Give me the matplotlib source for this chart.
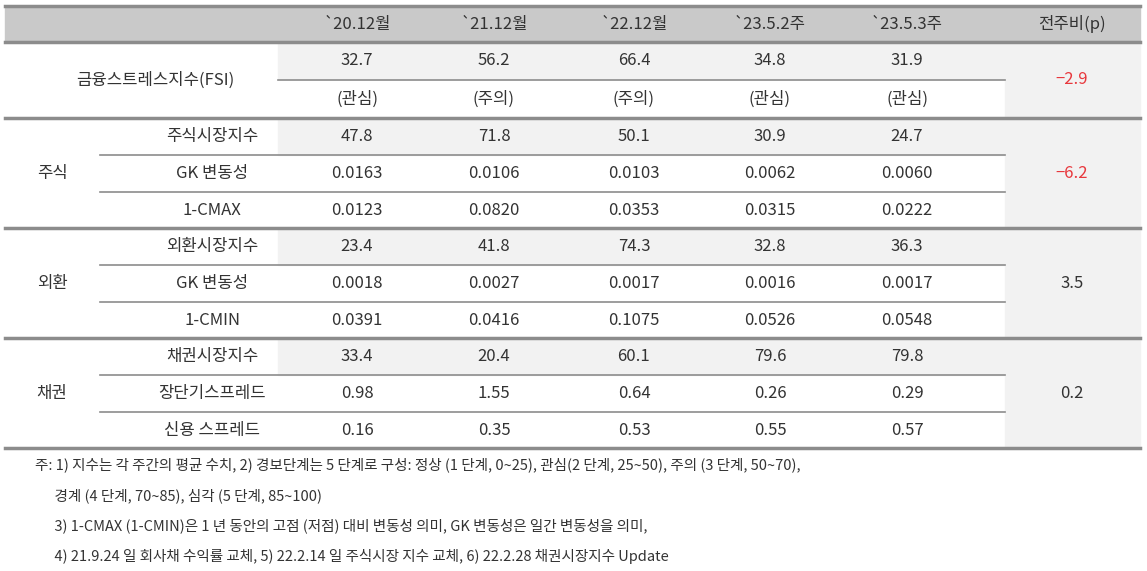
import matplotlib.pyplot as plt
from matplotlib.patches import Rectangle

plt.rcParams['font.family'] = ['Noto Sans CJK JP', 'Noto Sans CJK KR', 'Noto Sans CJK SC', 'DejaVu Sans']

# 데이터
periods = ["`20.12월", "`21.12월", "`22.12월", "`23.5.2주", "`23.5.3주"]
fsi_values = ["32.7", "56.2", "66.4", "34.8", "31.9"]
fsi_levels = ["(관심)", "(주의)", "(주의)", "(관심)", "(관심)"]
groups = ["주식", "외환", "채권"]
group_rows = [
    ["주식시장지수", "GK 변동성", "1-CMAX"],
    ["외환시장지수", "GK 변동성", "1-CMIN"],
    ["채권시장지수", "장단기스프레드", "신용 스프레드"],
]
group_values = [
    [["47.8", "71.8", "50.1", "30.9", "24.7"],
     ["0.0163", "0.0106", "0.0103", "0.0062", "0.0060"],
     ["0.0123", "0.0820", "0.0353", "0.0315", "0.0222"]],
    [["23.4", "41.8", "74.3", "32.8", "36.3"],
     ["0.0018", "0.0027", "0.0017", "0.0016", "0.0017"],
     ["0.0391", "0.0416", "0.1075", "0.0526", "0.0548"]],
    [["33.4", "20.4", "60.1", "79.6", "79.8"],
     ["0.98", "1.55", "0.64", "0.26", "0.29"],
     ["0.16", "0.35", "0.53", "0.55", "0.57"]],
]
fsi_change = "-2.9"
group_changes = ["-6.2", "3.5", "0.2"]
notes = [
    "주: 1) 지수는 각 주간의 평균 수치, 2) 경보단계는 5 단계로 구성: 정상 (1 단계, 0~25), 관심(2 단계, 25~50), 주의 (3 단계, 50~70),",
    "      경계 (4 단계, 70~85), 심각 (5 단계, 85~100)",
    "      3) 1-CMAX (1-CMIN)은 1 년 동안의 고점 (저점) 대비 변동성 의미, GK 변동성은 일간 변동성을 의미,",
    "      4) 21.9.24 일 회사채 수익률 교체, 5) 22.2.14 일 주식시장 지수 교체, 6) 22.2.28 채권시장지수 Update",
]

W, H = 1147, 571
fig = plt.figure(figsize=(W / 100, H / 100), dpi=100)
ax = fig.add_axes([0, 0, 1, 1])
ax.set_xlim(0, W)
ax.set_ylim(H, 0)
ax.axis('off')

txt = '#333333'
left, right = 5, 1140
data_l, data_r = 278, 1005
col_x = [357, 494, 634, 770, 907]
chg_x = 1072
row_h = 37

# 헤더
ax.add_patch(Rectangle((left, 6), right - left, 36, color='#c9c9c9', zorder=0))
for x, p in zip(col_x, periods):
    ax.text(x, 24, p, ha='center', va='center', fontsize=12, color=txt)
ax.text(chg_x, 24, "전주비(p)", ha='center', va='center', fontsize=12, color=txt)

def red_or_black(v):
    return '#e8383d' if v.startswith('-') else txt

# FSI
y0 = 42
ax.add_patch(Rectangle((data_l, y0), data_r - data_l, row_h, color='#f2f2f2', zorder=0))
ax.add_patch(Rectangle((data_r, y0), right - data_r, 2 * row_h + 2, color='#f2f2f2', zorder=0))
ax.text(155, y0 + row_h + 1, "금융스트레스지수(FSI)", ha='center', va='center', fontsize=12, color=txt)
for x, v, l in zip(col_x, fsi_values, fsi_levels):
    ax.text(x, y0 + row_h / 2, v, ha='center', va='center', fontsize=12, color=txt)
    ax.text(x, y0 + row_h * 1.5 + 2, l, ha='center', va='center', fontsize=12, color=txt)
ax.text(chg_x, y0 + row_h + 1, fsi_change.replace('-', '−'), ha='center', va='center',
        fontsize=12, color=red_or_black(fsi_change))
ax.plot([data_l, data_r], [y0 + row_h + 1, y0 + row_h + 1], color='#8c8c8c', lw=1.2)

# 그룹
gy = 118
for g, rows, vals, ch in zip(groups, group_rows, group_values, group_changes):
    ax.plot([left, right], [gy, gy], color='#8c8c8c', lw=2.5)
    ax.add_patch(Rectangle((data_l, gy), data_r - data_l, row_h, color='#f2f2f2', zorder=0))
    ax.add_patch(Rectangle((data_r, gy), right - data_r, 3 * row_h - 1, color='#f2f2f2', zorder=0))
    ax.text(52, gy + 1.5 * row_h, g, ha='center', va='center', fontsize=12, color=txt)
    for i, (name, rv) in enumerate(zip(rows, vals)):
        cy = gy + row_h * (i + 0.5)
        ax.text(212, cy, name, ha='center', va='center', fontsize=12, color=txt)
        for x, v in zip(col_x, rv):
            ax.text(x, cy, v, ha='center', va='center', fontsize=12, color=txt)
        if i > 0:
            ax.plot([100, data_r], [gy + row_h * i, gy + row_h * i], color='#8c8c8c', lw=1.2)
    ax.text(chg_x, gy + 1.5 * row_h, ch.replace('-', '−'), ha='center', va='center',
            fontsize=12, color=red_or_black(ch))
    gy += 3 * row_h - 1
ax.plot([left, right], [gy, gy], color='#8c8c8c', lw=2.5)
ax.plot([left, right], [6, 6], color='#8c8c8c', lw=2.5)
ax.plot([left, right], [42, 42], color='#8c8c8c', lw=2.5)

# 주석
for i, n in enumerate(notes):
    ax.text(35, 465 + i * 30.5, n, ha='left', va='center', fontsize=10.5, color=txt)

fig.savefig('out.png', dpi=100)
